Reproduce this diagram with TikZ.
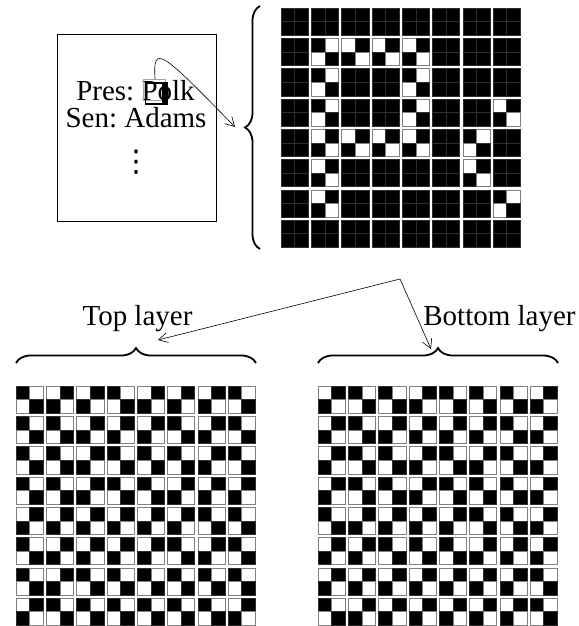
\documentclass[tikz,border=0pt]{standalone}
\usepackage{fontspec}
\setmainfont{Liberation Serif}
\newfontfamily\symfont{DejaVu Sans}
\usetikzlibrary{decorations.pathreplacing,arrows.meta}
\tikzset{
  blacksub/.style={fill=black,draw=black!82,line width=0.45pt},
  whitesub/.style={fill=white,draw=black!50,line width=0.6pt},
}
\newcommand\vcb[2]{\filldraw[blacksub] (#1,#2) rectangle ++(13.6,13.6);}
\newcommand\vcw[2]{\filldraw[whitesub] (#1,#2) rectangle ++(13.6,13.6);}
\newcommand\vccell[3]{%
  \ifcase#3\relax
    \vcb{#1}{#2}\vcw{#1+13.6}{#2}\vcw{#1}{#2+13.6}\vcb{#1+13.6}{#2+13.6}%
  \or
    \vcw{#1}{#2}\vcb{#1+13.6}{#2}\vcb{#1}{#2+13.6}\vcw{#1+13.6}{#2+13.6}%
  \else
    \vcb{#1}{#2}\vcb{#1+13.6}{#2}\vcb{#1}{#2+13.6}\vcb{#1+13.6}{#2+13.6}%
  \fi}
% each entry: top-layer pattern / overlay pattern (0 = white TR+BL, 1 = white TL+BR, 2 = black)
\def\VCdata{%
 {0/2,1/2,1/2,0/2,1/2,1/2,1/2,0/2},%
 {0/2,0/0,1/1,1/1,1/1,0/2,1/2,0/2},%
 {0/2,0/0,1/2,0/2,0/0,0/2,1/2,0/2},%
 {0/2,0/0,1/2,0/2,0/0,1/2,1/2,1/1},%
 {1/2,1/1,1/1,1/1,1/1,1/2,0/0,0/2},%
 {0/2,1/1,1/2,1/2,1/2,0/2,1/1,0/2},%
 {0/2,1/1,0/2,0/2,0/2,0/2,0/2,0/0},%
 {1/2,0/2,0/2,0/2,0/2,0/2,0/2,1/2}}
\tikzset{
  txt/.style={inner sep=0pt,font=\fontsize{29}{30}\selectfont\frenchspacing,anchor=base},
  bracestyle/.style={decorate,line width=1.8pt},
  conn/.style={line width=0.6pt,-{Straight Barb[length=9pt,width=10pt]}},
}
\begin{document}
\begin{tikzpicture}[x=1pt,y=-1pt]
\useasboundingbox (0,0) rectangle (578,626);
% grids
\foreach \rowl [count=\ri from 0] in \VCdata {
  \foreach \tv/\ov [count=\ci from 0] in \rowl {
    \pgfmathsetmacro\cx{\ci*30.3}
    \pgfmathsetmacro\ry{\ri*30.3}
    \pgfmathtruncatemacro\bv{\ov==2 ? 1-\tv : \tv}
    \vccell{281+\cx}{8+\ry}{\ov}
    \vccell{16+\cx}{386+\ry}{\tv}
    \vccell{318+\cx}{386+\ry}{\bv}
  }
}
% ballot
\node[draw,line width=0.6pt,minimum width=159pt,minimum height=187pt,inner sep=0pt] (ballot) at (136.5,127.5) {};
\node[txt] (pres) at (135.5,100) {Pres: Polk};
\node[txt] (sen) at (136,127) {Sen: Adams};
\node[inner sep=0pt,font=\symfont\fontsize{30}{30}\selectfont] (dots) at (136,162.5) {⋮};
\node[draw=gray!70,line width=0.8pt,minimum width=22.5pt,minimum height=21pt,inner sep=0pt] (mag) at (154.2,89.5) {};
\draw[line width=1.2pt] (145.5,83) rectangle (167.5,104);
\fill (162,84) rectangle (166.5,104);
\coordinate (magtop) at (155,79);
\coordinate (bigtarget) at (235,127);
\draw[conn] (magtop) .. controls (153,44) and (160,50) .. (bigtarget);
% braces
\draw[bracestyle,decoration={brace,amplitude=15pt}] (260,249) -- (260,6);
\draw[bracestyle,decoration={brace,amplitude=15pt}] (16,363) -- (256,363);
\draw[bracestyle,decoration={brace,amplitude=15pt}] (318,363) -- (558,363);
% labels
\node[txt] (toplab) at (137.5,325) {Top layer};
\node[txt] (botlab) at (499.5,325) {Bottom layer};
% split arrows
\coordinate (split) at (400,279);
\coordinate (toptarget) at (158,340);
\coordinate (bottarget) at (431,349);
\draw[conn] (split) -- (toptarget);
\draw[conn] (split) -- (bottarget);
\end{tikzpicture}
\end{document}
